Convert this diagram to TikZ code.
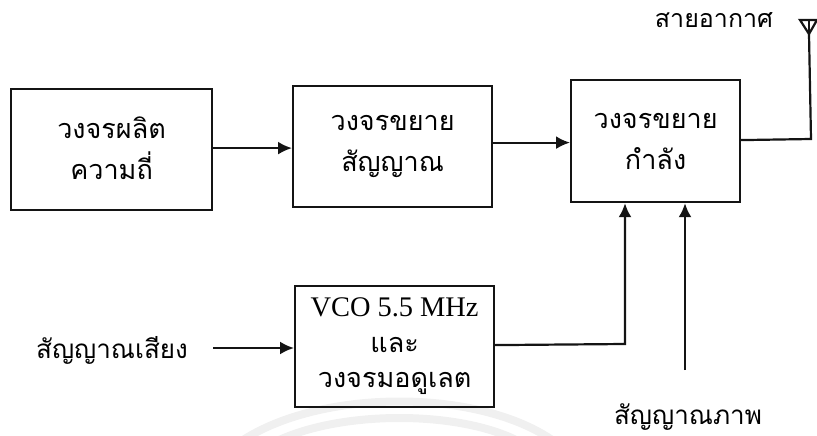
\documentclass[tikz,border=0pt]{standalone}
\usepackage{fontspec}
\setmainfont{Liberation Serif}
\newfontfamily\thaifont[Script=Thai]{Loma}
\usetikzlibrary{arrows.meta}
\tikzset{
  x=1pt,y=-1pt,
  blockbox/.style={draw=black!92,line width=2.2pt,minimum width=#1,align=center,inner sep=0pt,anchor=north west,font=\thaifont\fontsize{27}{41}\selectfont},
  conn/.style={line width=2.2pt,draw=black!92,-{Latex[length=14pt,width=13pt]}},
  wire/.style={line width=2.2pt,draw=black!92,line join=miter},
  lbl/.style={font=\thaifont\fontsize{26}{32}\selectfont,inner sep=0pt},
  mark arc/.style={draw=black!6,line width=8pt}
}
\begin{document}
\begin{tikzpicture}
\useasboundingbox (0,0) rectangle (817,436);
\draw[mark arc] (240,442) .. controls (320,388) and (480,388) .. (555,442);
\draw[mark arc] (275,442) .. controls (340,410) and (460,410) .. (520,442);
\node[blockbox=201pt,minimum height=121pt] (b1) at (10,88) {\raisebox{2pt}{วงจรผลิต}\\\raisebox{2pt}{ความถี่}};
\node[blockbox=199pt,minimum height=121pt] (b2) at (292,85) {\raisebox{-2pt}{วงจรขยาย}\\\raisebox{-2pt}{สัญญาณ}};
\node[blockbox=169pt,minimum height=122pt] (b3) at (570,79) {วงจรขยาย\\กำลัง};
\node[blockbox=199pt,minimum height=121pt] (b4) at (294,285) {\raisebox{-3pt}{\fontspec{Liberation Serif}\fontsize{28.4}{41}\selectfont VCO 5.5 MHz}\\[-4pt] \raisebox{-2pt}{และ}\\[-4pt] วงจรมอดูเลต};
\node[lbl,font=\thaifont\fontsize{25}{32}\selectfont] (t1) at (714,20) {สายอากาศ};
\node[lbl] (t2) at (112,350) {สัญญาณเสียง};
\node[lbl] (t3) at (688,417) {สัญญาณภาพ};
\coordinate (anttip) at (809,34);
\coordinate (antc) at (811,139);
\coordinate (jn) at (625,344);
\coordinate (picstart) at (685,370);
\coordinate (audstart) at (213,348);
\draw[conn] ([yshift=1.5pt]b1.east) -- ([yshift=1.5pt]b1.east -| b2.west);
\draw[conn] ([yshift=4pt]b2.east) -- ([yshift=4pt]b2.east -| b3.west);
\draw[wire] ([yshift=1pt]b3.east) -- (antc) -- (anttip);
\draw[wire] (800,20) -- (817,20) -- (anttip) -- cycle;
\draw[wire] (anttip) -- (809,20);
\draw[conn] ([yshift=1.5pt]b4.east) -- (jn) -- (b3.south -| jn);
\draw[conn] (picstart) -- (b3.south -| picstart);
\draw[conn] (audstart) -- (audstart -| b4.west);
\end{tikzpicture}
\end{document}
